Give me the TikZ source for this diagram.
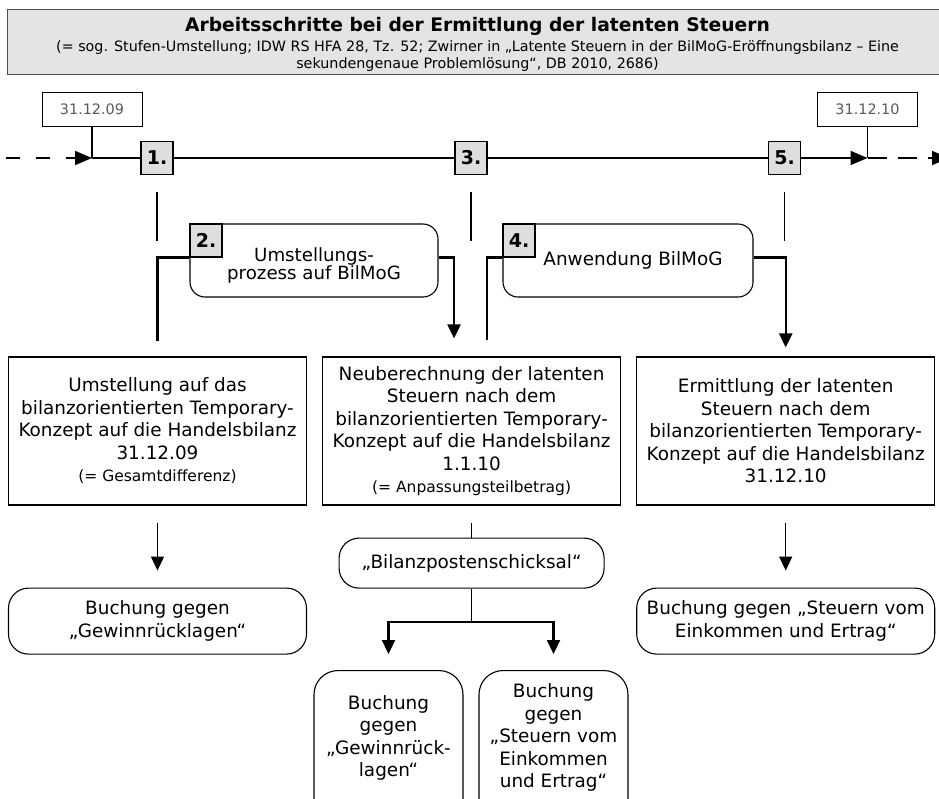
\documentclass[tikz,border=0pt]{standalone}
\usepackage{fontspec}
\setmainfont{DejaVu Sans}
\usetikzlibrary{positioning}
\usetikzlibrary{arrows.meta}
\usetikzlibrary{calc}

\definecolor{labelgray}{HTML}{DEDEDE}
\definecolor{headgray}{HTML}{E4E4E4}
\definecolor{dategray}{HTML}{5A5A5A}

\newcommand{\boxfont}{\fontsize{18.4}{22.5}\selectfont}
\newcommand{\notefont}{\fontsize{15.5}{19}\selectfont}
\newcommand{\tightfont}{\fontsize{18.2}{17.6}\selectfont\setlength{\lineskiplimit}{-100pt}}
\newcommand{\headfont}{\fontsize{14.3}{17}\selectfont\setlength{\lineskiplimit}{-100pt}}

\begin{document}
\begin{tikzpicture}[x=1pt, y=-1pt,
    mainbox/.style={draw, line width=1.1pt, minimum width=298pt, minimum height=148pt, align=center, inner sep=2pt, font=\boxfont},
    roundbox/.style={draw, line width=1.1pt, rounded corners=20pt, align=center, inner sep=2pt, font=\boxfont},
    stepbox/.style={draw, line width=1.1pt, fill=labelgray, minimum width=32pt, minimum height=33pt, inner sep=0pt, font=\fontsize{19}{20}\selectfont\bfseries},
    datebox/.style={draw, line width=1pt, minimum width=100pt, minimum height=34pt, text=dategray, font=\fontsize{14.4}{16}\selectfont},
    timeline/.style={line width=1.6pt},
    thinline/.style={line width=1.3pt},
    flow/.style={line width=2.2pt},
    flowtip/.style={-{Triangle[length=14pt, width=13pt]}},
    timetip/.style={-{Triangle[length=17pt, width=14pt]}}
]
    \useasboundingbox (0,0) rectangle (939,798);

    % Header
    \node[draw=black!70, line width=1pt, fill=headgray, minimum width=941pt, minimum height=65pt] (title) at (477.5,41.5) {};
    \node[align=center, inner sep=0pt, font=\headfont] (titletext) at ([yshift=-3pt]title.center)
    {{\fontsize{18.7}{20}\selectfont\bfseries Arbeitsschritte bei der Ermittlung der latenten Steuern}\\[3pt]
     (= sog. Stufen-Umstellung; IDW RS HFA 28, Tz. 52; Zwirner in „Latente Steuern in der BilMoG-Eröffnungsbilanz – Eine\\
     sekundengenaue Problemlösung“, DB 2010, 2686)};

    % Dates and steps on the time line
    \node[datebox] (d09) at (92,109) {31.12.09};
    \node[datebox] (d10) at (867.5,109) {31.12.10};
    \node[stepbox] (s1) at (157,158) {1.};
    \node[stepbox] (s3) at (471,158) {3.};
    \node[stepbox] (s5) at (784.5,158) {5.};

    \coordinate (j09) at (d09.south |- s1.center);
    \coordinate (j10) at (d10.south |- s5.center);
    \coordinate (t0) at (6,158);
    \coordinate (t1) at (949,158);

    % Time line
    \draw[timeline, dash pattern=on 14pt off 16pt, timetip] (t0) -- (j09);
    \draw[timeline] (j09) -- (s1) (s1) -- (s3) (s3) -- (s5);
    \draw[timeline, timetip] (s5) -- (j10);
    \draw[timeline, dash pattern=on 19pt off 11pt, timetip] (j10) -- (t1);
    \draw[thinline] (d09) -- (j09);
    \draw[thinline] (d10) -- (j10);

    % Process boxes 2 and 4
    \node[roundbox, rounded corners=15pt, minimum width=248pt, minimum height=73pt, text height=41.9pt, text depth=4.3pt,
          font=\tightfont] (b2) at (314,260.5) {Umstellungs-\\prozess auf BilMoG};
    \node[stepbox, anchor=north west] (s2) at (b2.north west) {2.};
    \node[roundbox, rounded corners=15pt, minimum width=250pt, minimum height=73pt] (b4) at (628,260.5) {\hspace*{10pt}Anwendung BilMoG};
    \node[stepbox, anchor=north west] (s4) at (b4.north west) {4.};

    % Main boxes
    \node[mainbox] (A) at (157.5,431) {Umstellung auf das\\bilanzorientierten Temporary-\\Konzept auf die Handelsbilanz\\31.12.09\\{\notefont (= Gesamtdifferenz)}};
    \node[mainbox, right=15pt of A] (B) {Neuberechnung der latenten\\Steuern nach dem\\bilanzorientierten Temporary-\\Konzept auf die Handelsbilanz\\1.1.10\\{\notefont (= Anpassungsteilbetrag)}};
    \node[mainbox, right=15pt of B] (C) {Ermittlung der latenten\\Steuern nach dem\\bilanzorientierten Temporary-\\Konzept auf die Handelsbilanz\\31.12.10};

    % Postings
    \node[roundbox, minimum width=298pt, minimum height=66pt, below=82pt of A] (GA) {Buchung gegen\\„Gewinnrücklagen“};
    \node[roundbox, minimum width=298pt, minimum height=66pt, below=82pt of C] (GC) {Buchung gegen „Steuern vom\\Einkommen und Ertrag“};
    \node[roundbox, minimum width=265pt, minimum height=50pt, below=32pt of B] (BP) {„Bilanzpostenschicksal“};
    \node[roundbox, rounded corners=24pt, minimum width=149pt, anchor=north, text height=104pt, text depth=52pt] (BL) at (388.5,670) {Buchung\\gegen\\„Gewinnrück-\\lagen“};
    \node[roundbox, rounded corners=24pt, minimum width=149pt, anchor=north, text height=115pt, text depth=41pt] (BR) at (553.5,670) {Buchung\\gegen\\„Steuern vom\\Einkommen\\und Ertrag“};

    % Steps down to the main boxes
    \foreach \s/\b in {s1/A, s3/B, s5/C}
        \draw[thinline, shorten <=17pt, shorten >=115pt] (\s.south) -- (\s.south |- \b.north);

    % Flow through boxes 2 and 4
    \coordinate (k2) at ([xshift=132pt,yshift=18pt]B.north west);
    \coordinate (k4) at ([yshift=9pt]C.north);
    \draw[flow] ([yshift=15pt]A.north) |- (s2.south west);
    \draw[flow, flowtip] (s2.south west -| b2.east) -| (k2);
    \draw[flow] ([xshift=165pt,yshift=16pt]B.north west) |- (s4.south west);
    \draw[flow, flowtip] (s4.south west -| b4.east) -| (k4);

    % Down to the postings
    \foreach \m/\g in {A/GA, C/GC}
        \draw[thinline, flowtip, shorten <=17pt, shorten >=17pt] (\m.south) -- (\m.south |- \g.north);
    \draw[thinline, shorten <=17pt] (B.south) -- (BP.north);
    \coordinate (fork) at ([yshift=-33pt]BP.south);
    \draw[thinline] (BP.south) -- (fork);
    \draw[flow, flowtip, shorten >=16pt] (fork) -| (BL.north);
    \draw[flow, flowtip, shorten >=16pt] (fork) -| (BR.north);
\end{tikzpicture}
\end{document}
